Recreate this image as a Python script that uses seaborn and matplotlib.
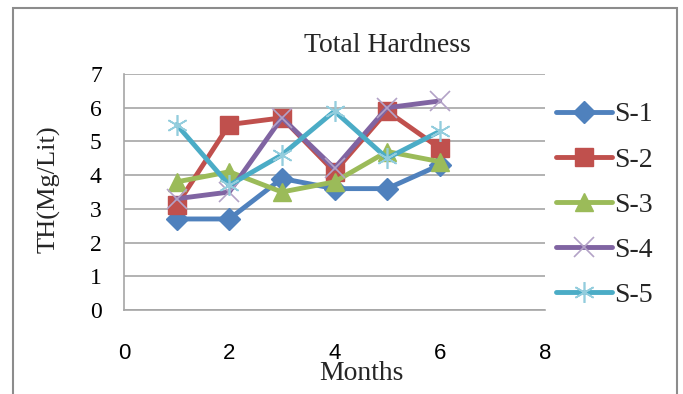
import pandas as pd
import matplotlib
matplotlib.use("Agg")
import matplotlib.pyplot as plt
from matplotlib.patches import Rectangle
import seaborn as sns

# -----------------------------
# 1. Data
# -----------------------------
months = [1, 2, 3, 4, 5, 6]
s1 = [2.7, 2.7, 3.9, 3.6, 3.6, 4.3]
s2 = [3.1, 5.5, 5.7, 4.1, 5.9, 4.8]
s3 = [3.8, 4.1, 3.5, 3.8, 4.7, 4.4]
s4 = [3.3, 3.5, 5.7, 4.2, 6.0, 6.2]
s5 = [5.5, 3.7, 4.6, 5.9, 4.5, 5.3]
series_names = ["S-1", "S-2", "S-3", "S-4", "S-5"]

df = pd.DataFrame({"Month": months, "S-1": s1, "S-2": s2, "S-3": s3, "S-4": s4, "S-5": s5})
long_df = df.melt(id_vars="Month", var_name="Site", value_name="TH")

# -----------------------------
# 2. Styling
# -----------------------------
sns.set_style("white")
plt.rcParams["font.family"] = ["Liberation Sans", "DejaVu Sans"]
serif = ["Liberation Serif", "DejaVu Serif"]

colors = ["#4F81BD", "#C0504D", "#9BBB59", "#8064A2", "#4BACC6"]
marker_face = ["#4F81BD", "#C0504D", "#9BBB59", "none", "none"]
marker_edge = ["#4F81BD", "#C0504D", "#9BBB59", "#B3A2C7", "#93CDDD"]
markers = ["D", "s", "^", "x", (6, 2, 0)]
msizes = [11, 13, 13, 14, 15]
medgew = [1, 1, 1, 1.2, 1.2]

fig = plt.figure(figsize=(6.83, 3.94), dpi=100)
ax = fig.add_axes([124 / 683, 1 - 310 / 394, 421 / 683, 236 / 394])

# -----------------------------
# 3. Lines
# -----------------------------
for i, name in enumerate(series_names):
    sub = long_df[long_df["Site"] == name]
    sns.lineplot(data=sub, x="Month", y="TH", ax=ax, color=colors[i], lw=3.5,
                 marker=markers[i], markersize=msizes[i],
                 markerfacecolor=marker_face[i], markeredgecolor=marker_edge[i],
                 markeredgewidth=medgew[i], label=name, solid_capstyle="round")

ax.set_xlim(0, 8)
ax.set_ylim(0, 7)
ax.set_xticks([0, 2, 4, 6, 8])
ax.set_yticks(range(0, 8))
ax.grid(axis="y", color="#a6a6a6", lw=1.2)
ax.set_axisbelow(True)
for side in ["top", "right"]:
    ax.spines[side].set_visible(False)
for side in ["left", "bottom"]:
    ax.spines[side].set_color("#a6a6a6")
    ax.spines[side].set_linewidth(1.2)
ax.tick_params(axis="both", direction="out", length=6, width=1.2, color="#a6a6a6",
               labelcolor="black")
ax.tick_params(axis="y", pad=10)
ax.tick_params(axis="x", pad=18, labelsize=16)
for lab in ax.get_yticklabels():
    lab.set_family(serif)
    lab.set_fontsize(17)

ax.set_title("Total Hardness", fontsize=20, family=serif, x=0.625, y=1.06)
ax.set_xlabel("Months", fontsize=20, family=serif)
ax.xaxis.set_label_coords(0.565, -0.215)
ax.set_ylabel("TH(Mg/Lit)", fontsize=19, family=serif)
ax.yaxis.set_label_coords(-0.15, 0.51)

leg = ax.legend(loc="center left", bbox_to_anchor=(545 / 683, 1 - 205 / 394),
                bbox_transform=fig.transFigure, frameon=False,
                prop={"family": serif, "size": 20}, handlelength=2.0,
                handletextpad=0.1, labelspacing=0.71, borderaxespad=0)

# outer chart frame
fig.patches.append(Rectangle((12.5 / 683, -0.1), (677 - 12.5) / 683, 1.1 - 8 / 394,
                             transform=fig.transFigure, fill=False,
                             edgecolor="#8c8c8c", lw=1.5))

fig.savefig("out.png", dpi=100)
